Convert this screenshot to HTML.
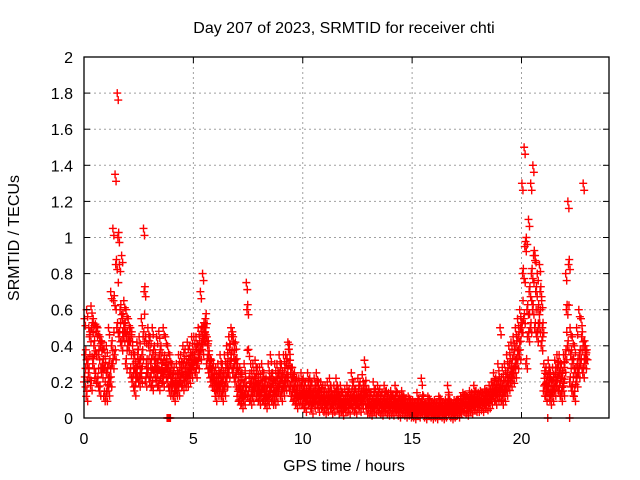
<!DOCTYPE html>
<html><head><meta charset="utf-8"><style>
html,body{margin:0;padding:0;background:#fff}
svg{display:block;font-family:"Liberation Sans",sans-serif}
</style></head><body>
<svg id="chart" width="640" height="480" viewBox="0 0 640 480" xmlns="http://www.w3.org/2000/svg">
<rect width="640" height="480" fill="#fff"/>
<text x="344" y="33" font-size="16" text-anchor="middle">Day 207 of 2023, SRMTID for receiver chti</text>
<text x="344" y="471" font-size="16" text-anchor="middle">GPS time / hours</text>
<text transform="translate(19,238) rotate(-90)" font-size="16" text-anchor="middle">SRMTID / TECUs</text>
<g id="grid"></g><g id="marks"></g><g id="axes"></g>
</svg>
<script>
const xTicks=[0,5,10,15,20];
const yTicks=[0,0.2,0.4,0.6,0.8,1,1.2,1.4,1.6,1.8,2];
const yTickLabels=["0","0.2","0.4","0.6","0.8","1","1.2","1.4","1.6","1.8","2"];
const hours=[0,0.1,0.2,0.3,0.4,0.5,0.6,0.7,0.8,0.9,1,1.1,1.2,1.3,1.4,1.5,1.6,1.7,1.8,1.9,2,2.1,2.2,2.3,2.4,2.5,2.6,2.7,2.8,2.9,3,3.1,3.2,3.3,3.4,3.5,3.6,3.7,3.8,3.9,4,4.1,4.2,4.3,4.4,4.5,4.6,4.7,4.8,4.9,5,5.1,5.2,5.3,5.4,5.5,5.6,5.7,5.8,5.9,6,6.1,6.2,6.3,6.4,6.5,6.6,6.7,6.8,6.9,7,7.1,7.2,7.3,7.4,7.5,7.6,7.7,7.8,7.9,8,8.1,8.2,8.3,8.4,8.5,8.6,8.7,8.8,8.9,9,9.1,9.2,9.3,9.4,9.5,9.6,9.7,9.8,9.9,10,10.1,10.2,10.3,10.4,10.5,10.6,10.7,10.8,10.9,11,11.1,11.2,11.3,11.4,11.5,11.6,11.7,11.8,11.9,12,12.1,12.2,12.3,12.4,12.5,12.6,12.7,12.8,12.9,13,13.1,13.2,13.3,13.4,13.5,13.6,13.7,13.8,13.9,14,14.1,14.2,14.3,14.4,14.5,14.6,14.7,14.8,14.9,15,15.1,15.2,15.3,15.4,15.5,15.6,15.7,15.8,15.9,16,16.1,16.2,16.3,16.4,16.5,16.6,16.7,16.8,16.9,17,17.1,17.2,17.3,17.4,17.5,17.6,17.7,17.8,17.9,18,18.1,18.2,18.3,18.4,18.5,18.6,18.7,18.8,18.9,19,19.1,19.2,19.3,19.4,19.5,19.6,19.7,19.8,19.9,20,20.1,20.2,20.3,20.4,20.5,20.6,20.7,20.8,20.9,21,21.1,21.2,21.3,21.4,21.5,21.6,21.7,21.8,21.9,22,22.1,22.2,22.3,22.4,22.5,22.6,22.7,22.8,22.9];
const tecuLow=[.2,.12,.25,.18,.3,.22,.2,.15,.25,.12, .12,.15,.2,.3,.35,.5,.45,.4,.45,.3, .4,.25,.2,.15,.25,.2,.22,.45,.2,.25, .2,.18,.25,.2,.18,.22,.2,.25,.2,.15, .15,.12,.15,.15,.2,.18,.2,.2,.22,.25, .28,.25,.3,.35,.38,.45,.3,.25,.2,.18, .12,.15,.15,.12,.15,.2,.25,.3,.25,.2, .12,.1,.08,.1,.15,.12,.1,.12,.15,.12, .1,.12,.1,.08,.1,.12,.1,.1,.12,.15, .12,.15,.18,.2,.15,.12,.1,.08,.1,.1, .08,.06,.1,.08,.05,.08,.1,.06,.08,.06, .05,.06,.08,.05,.06,.08,.05,.06,.04,.06, .06,.05,.08,.06,.05,.08,.06,.08,.1,.05, .05,.04,.06,.05,.06,.05,.04,.06,.05,.04, .05,.04,.06,.04,.03,.05,.04,.03,.04,.03, .03,.02,.04,.03,.05,.03,.02,.04,.03,.02, .03,.02,.04,.03,.02,.03,.05,.03,.02,.03, .04,.03,.05,.06,.05,.04,.06,.05,.07,.06, .06,.07,.06,.08,.07,.08,.1,.12,.1,.12, .12,.1,.12,.15,.18,.2,.22,.25,.3,.35, .5,.55,.3,.45,.5,.6,.5,.45,.5,.4, .15,.12,.15,.1,.12,.15,.18,.15,.12,.15, .35,.4,.2,.15,.12,.2,.25,.3,.25,.3];
const tecuMid=[.35,.3,.45,.5,.4,.48,.35,.4,.3,.28, .25,.3,.4,.65,.85,1.0,.6,.55,.5,.45, .45,.45,.3,.25,.35,.3,.35,.7,.3,.4, .3,.35,.3,.3,.35,.28,.32,.3,.28,.25, .22,.18,.22,.25,.28,.3,.28,.3,.32,.35, .35,.38,.4,.48,.5,.55,.4,.3,.25,.22, .2,.22,.25,.2,.25,.3,.38,.45,.35,.3, .2,.18,.15,.2,.6,.22,.2,.2,.22,.18, .18,.2,.15,.15,.2,.22,.18,.2,.22,.25, .2,.25,.3,.38,.25,.2,.18,.15,.15,.18, .15,.12,.18,.15,.12,.15,.18,.12,.14,.12, .1,.12,.15,.1,.12,.15,.1,.12,.08,.1, .12,.1,.15,.12,.1,.15,.12,.15,.18,.1, .1,.08,.12,.1,.12,.1,.08,.12,.1,.08, .1,.08,.12,.08,.07,.1,.08,.06,.08,.06, .06,.05,.08,.06,.1,.06,.05,.08,.06,.05, .06,.05,.08,.06,.05,.06,.1,.06,.05,.06, .07,.06,.08,.1,.09,.08,.1,.09,.12,.1, .1,.11,.1,.12,.11,.13,.15,.18,.16,.2, .2,.18,.2,.25,.3,.3,.35,.4,.45,.5, .8,.95,.6,.7,.8,.9,.7,.6,.7,.5, .22,.2,.25,.18,.2,.25,.28,.25,.22,.28, .6,.85,.35,.3,.25,.3,.35,.45,.4,.35];
const tecuHigh=[.55,.6,.5,.62,.55,.52,.5,.45,.42,.38, .4,.5,.7,1.05,1.35,1.8,.85,.9,.65,.6, .55,.5,.4,.35,.42,.45,.55,1.05,.45,.5, .45,.5,.4,.45,.48,.4,.5,.45,.4,.35, .3,.28,.3,.35,.35,.4,.38,.42,.4,.45, .45,.45,.5,.7,.8,.5,.45,.35,.32,.3, .28,.3,.35,.3,.35,.4,.45,.5,.45,.42, .3,.28,.25,.3,.75,.38,.3,.3,.32,.28, .28,.3,.25,.22,.3,.35,.25,.3,.3,.35, .3,.35,.35,.42,.32,.28,.25,.22,.22,.25, .22,.2,.25,.22,.2,.22,.25,.2,.2,.18, .18,.2,.22,.15,.18,.22,.16,.18,.14,.16, .18,.16,.25,.2,.16,.22,.2,.24,.32,.16, .16,.14,.2,.16,.18,.16,.14,.18,.15,.14, .15,.12,.18,.14,.12,.15,.12,.1,.12,.1, .1,.08,.14,.1,.22,.12,.08,.12,.1,.08, .1,.08,.12,.1,.08,.1,.18,.1,.08,.1, .1,.1,.12,.14,.13,.12,.15,.14,.18,.15, .14,.15,.14,.16,.15,.18,.2,.25,.22,.3, .5,.28,.3,.35,.4,.42,.45,.5,.55,.6, 1.3,1.5,1.0,1.1,1.3,1.4,.9,.8,.85,.65, .3,.28,.32,.25,.28,.32,.35,.35,.3,.35, .8,1.2,.5,.45,.4,.5,.6,.55,1.3,.4];
const zeroHours=[3.8,3.85,3.9,3.95,21.2,22.2];
const zeroVals=[0,0,0,0,0,0];

const L=84,R=609,T=57,B=418,XMAX=24,YMAX=2;
const xs=v=>L+(R-L)*v/XMAX;
const ys=v=>B-(B-T)*v/YMAX;
const NS="http://www.w3.org/2000/svg";
function mk(tag,attrs,parent){const e=document.createElementNS(NS,tag);for(const k in attrs)e.setAttribute(k,attrs[k]);parent.appendChild(e);return e;}
const grid=document.getElementById('grid'),axes=document.getElementById('axes'),marks=document.getElementById('marks');
xTicks.forEach((t,i)=>{
  const x=xs(t);
  if(t>0){const g=mk('line',{x1:x,y1:T,x2:x,y2:B,stroke:'#a0a0a0','stroke-dasharray':'2,3'},grid);
  
  }
  mk('line',{x1:x,y1:B,x2:x,y2:B-6,stroke:'#000'},axes);
  mk('line',{x1:x,y1:T,x2:x,y2:T+6,stroke:'#000'},axes);
  const tx=mk('text',{x:x,y:444,'font-size':16,'text-anchor':'middle'},axes);
  tx.textContent=String(t);
  
  
});
yTicks.forEach((t,i)=>{
  const y=ys(t);
  if(t>0&&t<YMAX){const g=mk('line',{x1:L,y1:y,x2:R,y2:y,stroke:'#a0a0a0','stroke-dasharray':'2,3'},grid);
  
  }
  mk('line',{x1:L,y1:y,x2:L+6,y2:y,stroke:'#000'},axes);
  mk('line',{x1:R,y1:y,x2:R-6,y2:y,stroke:'#000'},axes);
  const tx=mk('text',{x:73,y:y+6,'font-size':16,'text-anchor':'end'},axes);
  tx.textContent=yTickLabels[i];
  
  
});
const frame=mk('rect',{x:L,y:T,width:R-L,height:B-T,fill:'none',stroke:'#000','stroke-width':1.3},axes);


function plus(h,v,color,dx,dy){
  const x=xs(h)+dx,y=ys(v)+dy;
  const p=mk('path',{d:`M${x-4},${y}H${x+4}M${x},${y-4}V${y+4}`,stroke:color,'stroke-width':1.4,fill:'none'},marks);
  
  
}
// each sample drawn as a small cluster of markers to mimic the dense satellite scatter
const cl=[[0,0],[1,5],[0.5,-5]];
hours.forEach((h,i)=>{
  const mid=(tecuLow[i]+tecuMid[i])/2;
  cl.forEach(([dx,dy])=>{
    plus(h,tecuLow[i],'#ff0000',dx*1.5,dy);
    plus(h+0.05,tecuMid[i],'#ff0000',dx*1.5,dy);
  });
  plus(h+0.02,tecuHigh[i],'#ff0000',0,0);
  plus(h+0.02,tecuHigh[i],'#ff0000',1,7);
  plus(h+0.07,mid,'#ff0000',0,0);
});
zeroHours.forEach((h,i)=>plus(h,zeroVals[i],'#ff0000',0,0));
</script>
</body></html>
